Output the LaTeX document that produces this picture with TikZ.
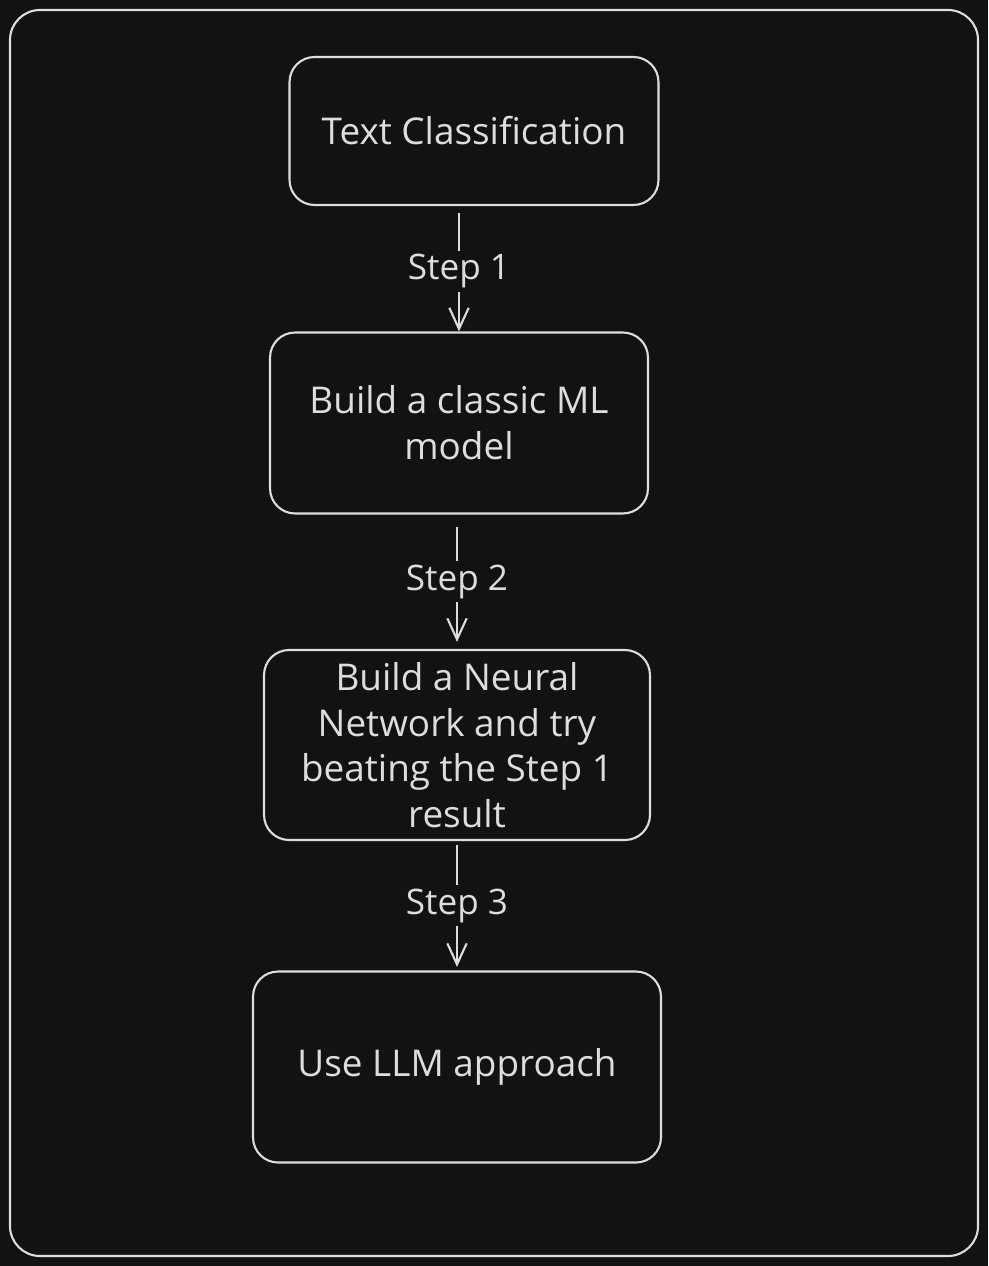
\documentclass[tikz,border=0pt]{standalone}
\usepackage{fontspec}
\setmainfont{Open Sans}
\usetikzlibrary{arrows.meta,positioning}
\definecolor{bg}{HTML}{121212}
\definecolor{ink}{HTML}{DDDDDD}
\tikzset{
  box/.style={draw=ink, line width=1.2pt, rounded corners=0.5cm, text=ink, align=center,
    inner sep=0pt, font=\fontsize{21}{26}\selectfont},
  lbl/.style={fill=bg, text=ink, inner sep=2pt, font=\fontsize{20}{22}\selectfont},
  arr/.style={draw=ink, line width=1.2pt, -{Straight Barb[length=12pt,width=11pt]}},
}
\begin{document}
\begin{tikzpicture}[x=0.02cm,y=-0.02cm]
          \fill[bg] (0,0) rectangle (988,1266);
          \useasboundingbox (0,0) rectangle (988,1266);
          \draw[ink, line width=1.2pt, rounded corners=0.6cm] (10,10) rectangle (978,1256);
          \node[box, minimum width=7.38cm, minimum height=2.96cm] at (474,131) (tc) {Text Classification};
          \node[box, minimum width=7.56cm, minimum height=3.62cm] at (459,423) (ml) {Build a classic ML\\model};
          \node[box, minimum width=7.72cm, minimum height=3.8cm] at (457,745) (nn) {Build a Neural\\Network and try\\beating the Step 1\\result};
          \node[box, minimum width=8.16cm, minimum height=3.82cm] at (457,1067) (llm) {Use LLM approach};
          \draw[arr, shorten <=4pt] (tc.south -| ml.north) -- node[lbl, pos=0.52] {Step 1} (ml.north);
          \draw[arr, shorten <=7pt, shorten >=4pt] (ml.south -| nn.north) -- node[lbl] {Step 2} (nn.north);
          \draw[arr, shorten <=2pt, shorten >=2pt] (nn.south) -- node[lbl] {Step 3} (llm.north);
        \end{tikzpicture}
\end{document}
